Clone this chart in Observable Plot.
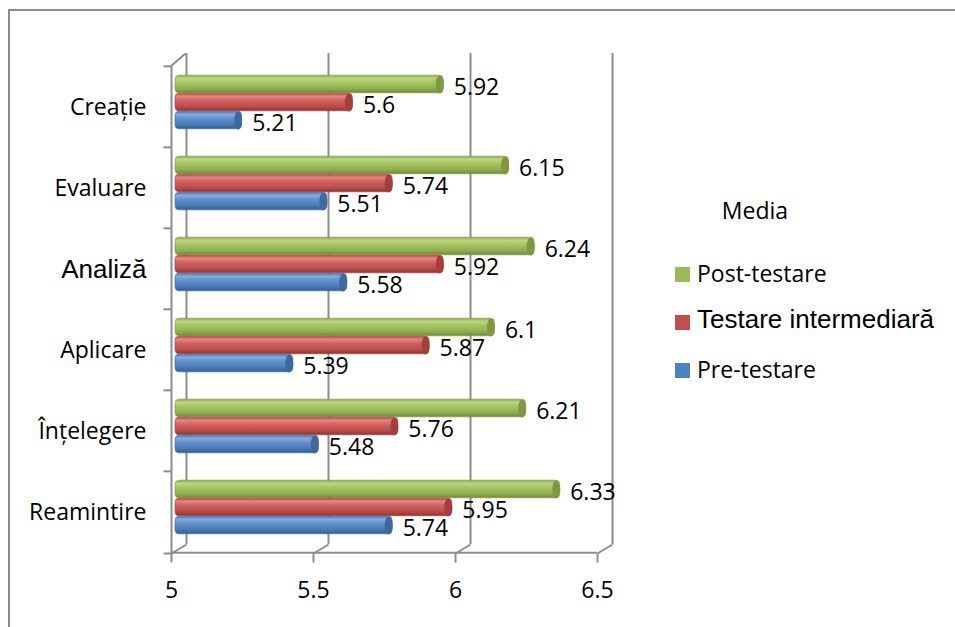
<!DOCTYPE html>
<html><head><meta charset="utf-8">
<script src="https://cdn.jsdelivr.net/npm/d3@7"></script>
<script src="https://cdn.jsdelivr.net/npm/@observablehq/plot@0.6"></script>
<style>
body{margin:0;background:#fff;}
#wrap{position:relative;width:955px;height:627px;overflow:hidden;font-family:"Open Sans",sans-serif;}
#wrap svg{position:absolute;left:0;top:0;}
#border{position:absolute;left:8px;top:9px;right:-5px;bottom:-5px;border-top:2px solid #8a8a8a;border-left:2px solid #8a8a8a;}
</style></head><body><div id="wrap"><div id="border"></div></div>
<script>
// ---- data ----
const categories = ["Creație", "Evaluare", "Analiză", "Aplicare", "Înțelegere", "Reamintire"];
const seriesNames = ["Post-testare", "Testare intermediară", "Pre-testare"];
const postTestare = [5.92, 6.15, 6.24, 6.1, 6.21, 6.33];
const testareIntermediara = [5.6, 5.74, 5.92, 5.87, 5.76, 5.95];
const preTestare = [5.21, 5.51, 5.58, 5.39, 5.48, 5.74];
const xTicks = [5, 5.5, 6, 6.5];
const legendTitle = "Media";

// ---- styling ----
const W = 955, H = 627;
const mTop = 65, mBottom = 74, mLeft = 182, mRight = 347;
const band = (H - mTop - mBottom) / categories.length;
const barH = 18;
const frameStroke = "#8c8c8c";
const series = [
  {name: seriesNames[0], values: postTestare, grad: "gGreen", cap: "#7d9a42", color: "#9bbb59", dy: -22.5},
  {name: seriesNames[1], values: testareIntermediara, grad: "gRed", cap: "#a3403d", color: "#c0504d", dy: -4.5},
  {name: seriesNames[2], values: preTestare, grad: "gBlue", cap: "#3e69a0", color: "#4f81bd", dy: 13.5}
];
const rows = s => categories.map((c, i) => ({category: c, value: s.values[i]}));

const ellipse = {draw(ctx) {
  const rx = 4, ry = barH / 2, k = 0.5523;
  ctx.moveTo(rx, 0);
  ctx.bezierCurveTo(rx, ry * k, rx * k, ry, 0, ry);
  ctx.bezierCurveTo(-rx * k, ry, -rx, ry * k, -rx, 0);
  ctx.bezierCurveTo(-rx, -ry * k, -rx * k, -ry, 0, -ry);
  ctx.bezierCurveTo(rx * k, -ry, rx, -ry * k, rx, 0);
  ctx.closePath();
}};
const diag = {draw(ctx) { ctx.moveTo(0, 0); ctx.lineTo(15, -9); }};
const diagTop = {draw(ctx) { ctx.moveTo(0, 0); ctx.lineTo(14, -12); }};
const tickDown = {draw(ctx) { ctx.moveTo(0, 0); ctx.lineTo(0, 9); }};
const tickLeft = {draw(ctx) { ctx.moveTo(0, 0); ctx.lineTo(-8, 0); }};
const lineStyle = {stroke: frameStroke, strokeWidth: 2, fill: "none"};
const last = categories[categories.length - 1];

const marks = [
  // back wall gridlines
  Plot.ruleX(xTicks, {x: d => d, dx: 4, insetTop: -12, insetBottom: 9, ...lineStyle}),
  // front left axis
  Plot.ruleX([xTicks[0]], {x: d => d, dx: -11, ...lineStyle}),
  // floor front edge
  Plot.ruleY([last], {y: d => d, x1: () => xTicks[0], x2: () => xTicks[xTicks.length - 1], dx: -11, dy: band / 2, ...lineStyle}),
  // floor diagonals
  Plot.dot(xTicks, {x: d => d, frameAnchor: "bottom", dx: -11, symbol: diag, ...lineStyle}),
  Plot.dot([xTicks[0]], {x: d => d, frameAnchor: "top", dx: -11, symbol: diagTop, ...lineStyle}),
  // ticks
  Plot.dot(xTicks, {x: d => d, frameAnchor: "bottom", dx: -11, symbol: tickDown, ...lineStyle}),
  Plot.dot(categories, {y: d => d, x: () => xTicks[0], dx: -11, dy: -band / 2, symbol: tickLeft, ...lineStyle}),
  Plot.dot([xTicks[0]], {x: d => d, frameAnchor: "bottom", dx: -11, symbol: tickLeft, ...lineStyle}),
  // x tick labels
  Plot.text(xTicks, {x: d => d, frameAnchor: "bottom", dx: -11, dy: 44, text: d => String(d), fontSize: 23, fontFamily: "Open Sans", fill: "#000"}),
  // category labels
  Plot.text(categories.filter(c => c !== "Analiză"), {y: d => d, x: () => xTicks[0], dx: -36, dy: 1, textAnchor: "end", fontSize: 23, fontFamily: "Open Sans", fill: "#000"}),
  Plot.text(categories.filter(c => c === "Analiză"), {y: d => d, x: () => xTicks[0], dx: -36, dy: 1, textAnchor: "end", fontSize: 26, fontFamily: "Liberation Sans, Arial", fill: "#000"}),
  // bars
  ...series.flatMap(s => [
    Plot.barX(rows(s), {y: "category", x1: () => xTicks[0], x2: "value", insetTop: (band - barH) / 2, insetBottom: (band - barH) / 2, insetLeft: -7, dy: s.dy, rx: 4, fill: `url(#${s.grad})`, stroke: s.cap, strokeWidth: 0.6}),
    Plot.dot(rows(s), {y: "category", x: "value", dx: -4, dy: s.dy, symbol: ellipse, fill: s.cap, stroke: "none"}),
    Plot.text(rows(s), {y: "category", x: "value", text: d => String(d.value), dx: 10, dy: s.dy + 3.5, textAnchor: "start", fontSize: 23, fontFamily: "Open Sans", fill: "#000"})
  ])
];

const chart = Plot.plot({
  width: W, height: H,
  marginTop: mTop, marginBottom: mBottom, marginLeft: mLeft, marginRight: mRight,
  x: {domain: [xTicks[0], xTicks[xTicks.length - 1]], axis: null},
  y: {domain: categories, type: "band", padding: 0, axis: null},
  style: {background: "transparent", maxWidth: "none", overflow: "visible", fontFamily: "Open Sans"},
  marks
});

// cylinder shading gradients
const defs = d3.select(chart).insert("defs", ":first-child");
function grad(id, stops) {
  const g = defs.append("linearGradient").attr("id", id).attr("x1", 0).attr("x2", 0).attr("y1", 0).attr("y2", 1);
  stops.forEach(([o, c]) => g.append("stop").attr("offset", o).attr("stop-color", c));
}
grad("gGreen", [[0, "#8aa94c"], [0.18, "#bcd681"], [0.4, "#a8c566"], [0.75, "#90b04f"], [1, "#6e8a36"]]);
grad("gRed", [[0, "#b04a47"], [0.18, "#e58683"], [0.4, "#d2625f"], [0.75, "#bb4d4a"], [1, "#8c3432"]]);
grad("gBlue", [[0, "#4775ad"], [0.18, "#86acdc"], [0.4, "#6290cb"], [0.75, "#4b7bb8"], [1, "#345d90"]]);

const wrap = document.getElementById("wrap");
wrap.insertBefore(chart, wrap.firstChild);

// legend
const leg = d3.select(wrap).append("svg").attr("width", W).attr("height", H)
  .style("position", "absolute").style("left", 0).style("top", 0).style("pointer-events", "none");
leg.append("text").attr("x", 755).attr("y", 219).attr("text-anchor", "middle")
  .attr("font-family", "Open Sans").attr("font-size", 23).text(legendTitle);
const legY = [282, 328, 378];
series.forEach((s, i) => {
  leg.append("rect").attr("x", 675).attr("y", legY[i] - 15 - (i === 1 ? -2 : 0)).attr("width", 15).attr("height", 15).attr("fill", s.color);
  leg.append("text").attr("x", 697).attr("y", legY[i])
    .attr("font-family", i === 1 ? "Liberation Sans, Arial" : "Open Sans")
    .attr("font-size", i === 1 ? 26 : 23).text(s.name);
});
</script></body></html>
